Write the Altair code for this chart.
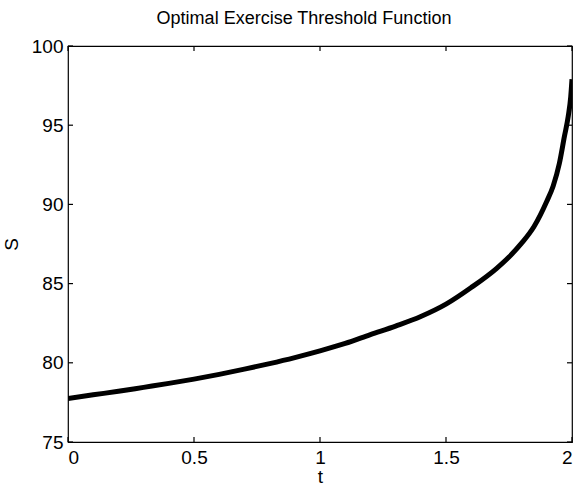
import altair as alt
import pandas as pd

# values
t_vals = [0.0, 0.1, 0.2, 0.3, 0.4, 0.5, 0.6, 0.7, 0.8, 0.9, 1.0, 1.1, 1.2, 1.3,
          1.4, 1.5, 1.6, 1.7, 1.75, 1.8, 1.85, 1.9, 1.925, 1.95, 1.97, 1.985, 1.995, 2.0]
s_vals = [77.75, 77.98, 78.2, 78.45, 78.7, 78.97, 79.27, 79.6, 79.95, 80.33, 80.75, 81.22,
          81.78, 82.32, 82.92, 83.7, 84.75, 85.95, 86.68, 87.55, 88.62, 90.2, 91.15, 92.6,
          94.3, 95.55, 96.8, 97.9]
x_ticks = [0, 0.5, 1, 1.5, 2]
y_ticks = [75, 80, 85, 90, 95, 100]

FONT = "Liberation Sans"
W, H = 504, 396
TL = 5  # inward tick length
TICK_COLOR = "black"

df = pd.DataFrame({"t": t_vals, "S": s_vals})
xt = pd.DataFrame({"t": x_ticks})
yt = pd.DataFrame({"S": y_ticks})

xscale = alt.Scale(domain=[0, 2], nice=False, zero=False)
yscale = alt.Scale(domain=[75, 100], nice=False, zero=False)

line = alt.Chart(df).mark_line(color="black", strokeWidth=5, interpolate="monotone", clip=True).encode(
    x=alt.X("t:Q", scale=xscale, axis=alt.Axis(values=x_ticks, title="t", format="~g")),
    y=alt.Y("S:Q", scale=yscale, axis=alt.Axis(values=y_ticks, title="S", format="d")),
)

xb = alt.Chart(xt).mark_rule(color=TICK_COLOR, strokeWidth=1.2).encode(
    x=alt.X("t:Q", scale=xscale, axis=None), y=alt.value(H), y2=alt.value(H - TL))
xtop = alt.Chart(xt).mark_rule(color=TICK_COLOR, strokeWidth=1.2).encode(
    x=alt.X("t:Q", scale=xscale, axis=None), y=alt.value(0), y2=alt.value(TL))
yl = alt.Chart(yt).mark_rule(color=TICK_COLOR, strokeWidth=1.2).encode(
    y=alt.Y("S:Q", scale=yscale, axis=None), x=alt.value(0), x2=alt.value(TL))
yr = alt.Chart(yt).mark_rule(color=TICK_COLOR, strokeWidth=1.2).encode(
    y=alt.Y("S:Q", scale=yscale, axis=None), x=alt.value(W), x2=alt.value(W - TL))

chart = alt.layer(line, xb, xtop, yl, yr).resolve_axis(
    x="independent", y="independent"
).properties(
    width=W, height=H,
    background="white",
    title=alt.TitleParams("Optimal Exercise Threshold Function", font=FONT, fontSize=18,
                          fontWeight="normal", color="black", offset=9, dx=-16),
    autosize="none",
    padding={"left": 68, "top": 46, "right": 5, "bottom": 43},
).configure_view(
    stroke="black", strokeWidth=1.2
).configure_axis(
    grid=False, domain=False, ticks=False, labelFontSize=19, labelFont=FONT,
    labelColor="black", titleFont=FONT, titleFontSize=19, titleFontWeight="normal",
    titleColor="black"
).configure_axisX(
    labelPadding=6, titlePadding=0
).configure_axisY(
    labelPadding=5, titlePadding=10
)

chart.save("out.html", embed_options={"renderer": "svg", "actions": False})
